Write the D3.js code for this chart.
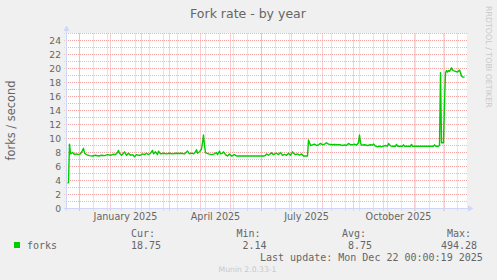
<!DOCTYPE html>
<html>
<head>
<meta charset="utf-8">
<script src="https://cdn.jsdelivr.net/npm/d3@7"></script>
<style>
  html, body { margin: 0; padding: 0; background: #f0f0f0; }
  svg { display: block; }
</style>
</head>
<body>
<svg id="chart" width="497" height="280"></svg>
<script>
// Fork rate, daily averages
const dates = [
  '2024-11-19','2024-11-20','2024-11-21','2024-11-22','2024-11-24','2024-11-26','2024-11-28','2024-11-30',
  '2024-12-02','2024-12-04','2024-12-05','2024-12-06','2024-12-08','2024-12-11','2024-12-14','2024-12-17',
  '2024-12-20','2024-12-23','2024-12-26','2024-12-29','2025-01-01','2025-01-04','2025-01-06','2025-01-08',
  '2025-01-09','2025-01-10','2025-01-12','2025-01-14','2025-01-15','2025-01-17','2025-01-19','2025-01-21',
  '2025-01-23','2025-01-25','2025-01-27','2025-01-29','2025-01-31','2025-02-02','2025-02-04','2025-02-06',
  '2025-02-08','2025-02-10','2025-02-12','2025-02-13','2025-02-15','2025-02-17','2025-02-18','2025-02-20',
  '2025-02-23','2025-02-26','2025-03-01','2025-03-04','2025-03-07','2025-03-10','2025-03-13','2025-03-16',
  '2025-03-19','2025-03-21','2025-03-23','2025-03-25','2025-03-27','2025-03-28','2025-03-29','2025-03-31',
  '2025-04-02','2025-04-03','2025-04-04','2025-04-05','2025-04-06','2025-04-07','2025-04-09','2025-04-12',
  '2025-04-15','2025-04-17','2025-04-18','2025-04-20','2025-04-21','2025-04-23','2025-04-24','2025-04-26',
  '2025-04-28','2025-04-30','2025-05-02','2025-05-05','2025-05-07','2025-05-10','2025-05-14','2025-05-18',
  '2025-05-22','2025-05-26','2025-05-30','2025-06-03','2025-06-05','2025-06-06','2025-06-08','2025-06-11',
  '2025-06-13','2025-06-16','2025-06-18','2025-06-20','2025-06-22','2025-06-24','2025-06-26','2025-06-28',
  '2025-06-30','2025-07-02','2025-07-03','2025-07-05','2025-07-07','2025-07-09','2025-07-11','2025-07-13',
  '2025-07-16','2025-07-17','2025-07-18','2025-07-19','2025-07-20','2025-07-22','2025-07-24','2025-07-26',
  '2025-07-28','2025-07-30','2025-08-01','2025-08-03','2025-08-05','2025-08-07','2025-08-09','2025-08-11',
  '2025-08-13','2025-08-16','2025-08-19','2025-08-21','2025-08-23','2025-08-25','2025-08-27','2025-08-29',
  '2025-08-31','2025-09-02','2025-09-04','2025-09-06','2025-09-07','2025-09-08','2025-09-09','2025-09-12',
  '2025-09-15','2025-09-18','2025-09-20','2025-09-21','2025-09-23','2025-09-25','2025-09-27','2025-09-29',
  '2025-10-01','2025-10-03','2025-10-05','2025-10-06','2025-10-08','2025-10-10','2025-10-13','2025-10-14',
  '2025-10-15','2025-10-20','2025-10-21','2025-10-22','2025-10-28','2025-10-29','2025-10-30','2025-11-05',
  '2025-11-12','2025-11-20','2025-11-21','2025-11-22','2025-11-25','2025-11-26','2025-11-27','2025-11-28',
  '2025-11-29','2025-11-30','2025-12-01','2025-12-02','2025-12-03','2025-12-04','2025-12-05','2025-12-06',
  '2025-12-08','2025-12-09','2025-12-10','2025-12-12','2025-12-14','2025-12-16','2025-12-17','2025-12-18',
  '2025-12-19','2025-12-21'
];
const forks = [
  3.6, 3.7, 9.2, 7.8, 8.0, 7.7, 7.8, 7.7,
  7.8, 8.3, 8.6, 7.9, 7.7, 7.55, 7.5, 7.6,
  7.5, 7.6, 7.55, 7.7, 7.6, 7.75, 7.7, 8.0,
  8.3, 7.9, 7.6, 7.9, 8.1, 7.6, 7.9, 7.6,
  7.7, 7.4, 7.7, 7.6, 7.6, 7.8, 7.7, 7.9,
  7.7, 7.9, 8.3, 7.8, 8.1, 7.7, 8.2, 7.8,
  7.9, 7.8, 7.9, 7.8, 7.9, 7.85, 7.9, 7.8,
  8.2, 7.8, 7.9, 7.8, 8.1, 8.4, 7.9, 8.1,
  8.5, 9.4, 10.5, 9.0, 8.0, 7.9, 7.8, 7.7,
  7.8, 8.0, 7.7, 8.2, 7.8, 7.9, 8.1, 7.7,
  7.5, 7.8, 7.5, 7.7, 7.5, 7.5, 7.5, 7.5,
  7.5, 7.5, 7.5, 7.5, 7.6, 7.8, 7.6, 7.95,
  7.7, 7.9, 7.7, 8.0, 7.6, 7.75, 7.6, 7.9,
  7.6, 8.1, 7.9, 7.7, 7.8, 7.6, 7.8, 7.5,
  7.5, 7.5, 9.8, 9.4, 9.0, 9.1, 9.2, 9.0,
  9.1, 9.3, 9.1, 9.2, 9.4, 9.2, 9.15, 9.1,
  9.15, 9.1, 9.1, 9.0, 9.1, 9.0, 9.3, 9.1,
  9.1, 9.2, 9.05, 9.4, 10.5, 9.4, 9.05, 9.1,
  9.0, 9.1, 9.05, 9.2, 8.9, 8.8, 8.9, 8.8,
  8.9, 9.0, 8.9, 9.3, 8.95, 8.9, 8.9, 9.15,
  8.9, 8.9, 9.1, 8.9, 8.9, 9.15, 8.9, 8.9,
  8.9, 8.9, 9.1, 8.9, 8.9, 9.0, 19.4, 9.4,
  9.4, 9.4, 15.2, 19.4, 19.7, 19.5, 19.7, 19.6,
  20.1, 19.8, 19.7, 19.6, 19.5, 19.8, 19.4, 18.9,
  18.8, 18.75
];

const yTicks = [0, 2, 4, 6, 8, 10, 12, 14, 16, 18, 20, 22, 24];
const quarterLabelDates = ['2025-01-16', '2025-04-16', '2025-07-16', '2025-10-16'];
const quarterLabels = ['January 2025', 'April 2025', 'July 2025', 'October 2025'];
const legendHeaders = ['Cur:', 'Min:', 'Avg:', 'Max:'];
const legendValues = ['18.75', '2.14', '8.75', '494.28'];

const parseDay = d3.timeParse('%Y-%m-%d');
const points = dates.map((d, i) => ({ date: parseDay(d), value: forks[i] }));

const svg = d3.select('#chart');
const W = 497, H = 280;
const plotLeft = 67, plotRight = 467, plotTop = 33, plotBottom = 208.5;
const fontColor = '#666666';
const axisColor = '#cfd6f8';

svg.append('rect').attr('width', W).attr('height', H).attr('fill', '#f0f0f0');
svg.append('rect')
  .attr('x', plotLeft).attr('y', plotTop)
  .attr('width', plotRight - plotLeft).attr('height', plotBottom - plotTop)
  .attr('fill', '#ffffff');

// 400 days, one pixel per day
const start = new Date(2024, 10, 18, 12);
const end = new Date(2025, 11, 23, 12);
const x = d3.scaleTime().domain([start, end]).range([plotLeft, plotRight]);
const y = d3.scaleLinear().domain([0, 25]).range([plotBottom, 33.5]);

// horizontal grid: every unit grey, even units red
const minorY = d3.range(1, 26, 2);
const majorY = d3.range(2, 26, 2);
function hGrid(vals, color) {
  const g = svg.append('g')
    .attr('transform', `translate(${plotRight},0)`)
    .call(d3.axisLeft(y).tickValues(vals).tickSize(plotRight - 64.5).tickFormat('').offset(0));
  g.select('.domain').remove();
  g.selectAll('line').attr('stroke', color).attr('stroke-dasharray', '1,1');
}

// vertical grid: grey every two weeks, red at month starts
const minorX = d3.timeDay.range(new Date(2024, 11, 1), end, 14);
const majorX = d3.timeMonth.range(start, end);
function vGrid(vals, color) {
  const g = svg.append('g')
    .attr('transform', 'translate(0,210.5)')
    .call(d3.axisBottom(x).tickValues(vals).tickSize(-(210.5 - plotTop)).tickFormat('').offset(0));
  g.select('.domain').remove();
  g.selectAll('line').attr('stroke', color).attr('stroke-dasharray', '1,1');
}
hGrid(minorY, '#c8c8c8');
vGrid(minorX, '#c8c8c8');
hGrid(majorY, '#f2a0a0');
vGrid(majorX, '#f2a0a0');

// axes with arrows
svg.append('line')
  .attr('x1', 66.5).attr('x2', 66.5).attr('y1', 210.5).attr('y2', 29)
  .attr('stroke', axisColor);
svg.append('path')
  .attr('d', 'M63.5,31L69.5,31L66.5,25.5Z')
  .attr('fill', axisColor);
svg.append('line')
  .attr('x1', 64).attr('x2', 470).attr('y1', plotBottom).attr('y2', plotBottom)
  .attr('stroke', axisColor);
svg.append('path')
  .attr('d', 'M468,205.5L468,211.5L473.5,208.5Z')
  .attr('fill', axisColor);

// tick labels
const yAxis = svg.append('g')
  .attr('transform', 'translate(66,0)')
  .call(d3.axisLeft(y).tickValues(yTicks).tickSize(0).tickPadding(5).offset(0));
yAxis.select('.domain').remove();
yAxis.selectAll('text')
  .attr('fill', fontColor)
  .attr('dy', '0.38em')
  .style('font-family', 'DejaVu Sans')
  .style('font-size', '9.2px');

const xAxis = svg.append('g')
  .attr('transform', `translate(0,${plotBottom})`)
  .call(d3.axisBottom(x)
    .tickValues(quarterLabelDates.map(parseDay))
    .tickSize(0)
    .tickFormat((d, i) => quarterLabels[i])
    .offset(0));
xAxis.select('.domain').remove();
xAxis.selectAll('text')
  .attr('y', 11).attr('dy', 0)
  .attr('fill', fontColor)
  .style('font-family', 'DejaVu Sans')
  .style('font-size', '9.6px');

// data line
const line = d3.line()
  .x(d => x(d.date))
  .y(d => y(d.value));
svg.append('path')
  .datum(points)
  .attr('d', line)
  .attr('fill', 'none')
  .attr('stroke', '#00cc00')
  .attr('stroke-width', 1.4)
  .attr('stroke-linejoin', 'round');

// titles
svg.append('text')
  .attr('x', 248).attr('y', 18)
  .attr('text-anchor', 'middle')
  .attr('fill', fontColor)
  .style('font-family', 'DejaVu Sans')
  .style('font-size', '12.5px')
  .text('Fork rate - by year');

svg.append('text')
  .attr('transform', 'translate(15,120.5) rotate(-90)')
  .attr('text-anchor', 'middle')
  .attr('fill', fontColor)
  .style('font-family', 'DejaVu Sans')
  .style('font-size', '11.4px')
  .text('forks / second');

svg.append('text')
  .attr('transform', 'translate(486,6) rotate(90)')
  .attr('fill', '#c8c8c8')
  .style('font-family', 'DejaVu Sans')
  .style('font-size', '7.9px')
  .text('RRDTOOL / TOBI OETIKER');

// legend
const mono = t => t.style('font-family', 'DejaVu Sans Mono').style('font-size', '10px').attr('fill', fontColor);
svg.append('rect')
  .attr('x', 14).attr('y', 242).attr('width', 6).attr('height', 6)
  .attr('fill', '#00cc00');
svg.append('text').attr('x', 27).attr('y', 249).text('forks').call(mono);

const headerX = [131, 236.5, 342, 447];
const valueX = [131, 242.5, 348, 441];
svg.selectAll('.lg-head')
  .data(legendHeaders)
  .enter().append('text')
  .attr('class', 'lg-head')
  .attr('x', (d, i) => headerX[i]).attr('y', 237)
  .text(d => d)
  .call(mono);
svg.selectAll('.lg-val')
  .data(legendValues)
  .enter().append('text')
  .attr('class', 'lg-val')
  .attr('x', (d, i) => valueX[i]).attr('y', 249)
  .text(d => d)
  .call(mono);

svg.append('text')
  .attr('x', 260).attr('y', 260.5)
  .text('Last update: Mon Dec 22 00:00:19 2025')
  .call(mono);

svg.append('text')
  .attr('x', 218.5).attr('y', 272)
  .attr('fill', '#c8c8c8')
  .style('font-family', 'DejaVu Sans')
  .style('font-size', '7.7px')
  .text('Munin 2.0.33-1');
</script>
</body>
</html>
